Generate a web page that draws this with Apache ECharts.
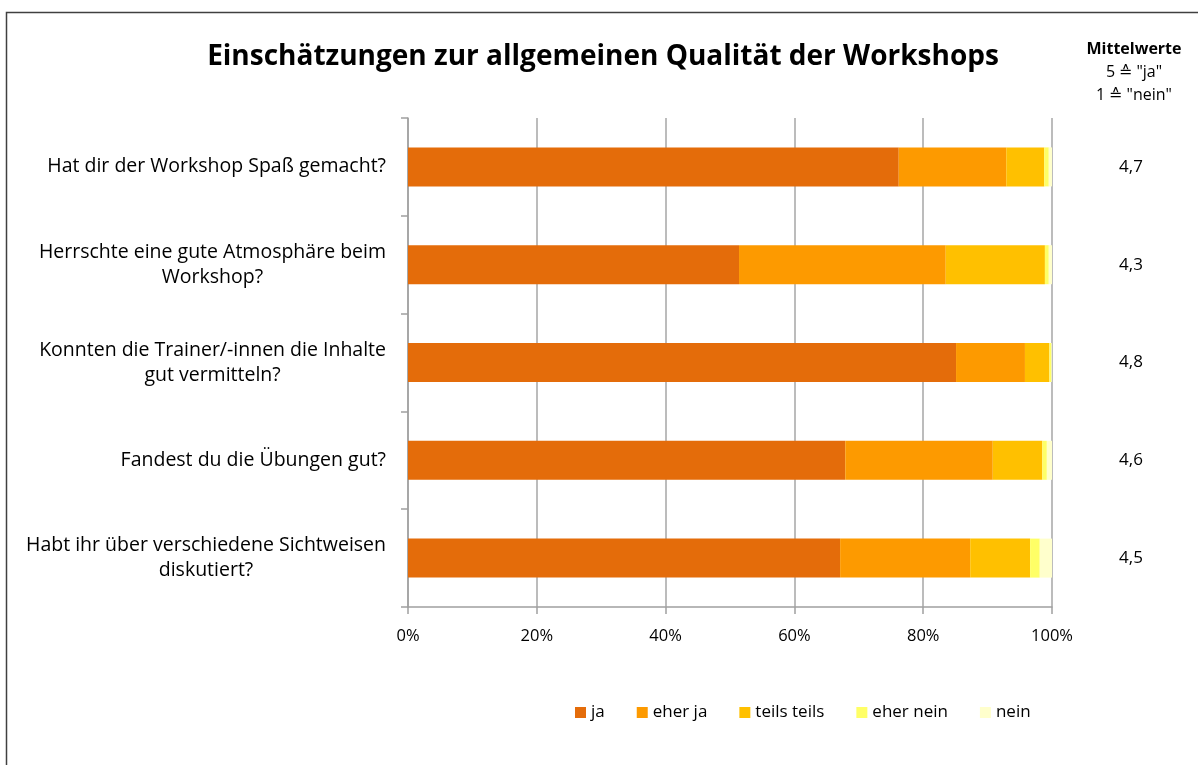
<!DOCTYPE html>
<html>
<head>
<meta charset="utf-8">
<script src="https://cdn.jsdelivr.net/npm/echarts@6/dist/echarts.min.js"></script>
<style>
  html, body { margin: 0; padding: 0; background: #fff; }
  #chart { width: 1198px; height: 765px; }
</style>
</head>
<body>
<div id="chart"></div>
<script>
// questions, top to bottom
const questions = [
  'Hat dir der Workshop Spaß gemacht?',
  'Herrschte eine gute Atmosphäre beim\nWorkshop?',
  'Konnten die Trainer/-innen die Inhalte\ngut vermitteln?',
  'Fandest du die Übungen gut?',
  'Habt ihr über verschiedene Sichtweisen\ndiskutiert?'
];
const means = ['4,7', '4,3', '4,8', '4,6', '4,5'];

// shares in percent per answer
const ja = [76.2, 51.4, 85.1, 67.9, 67.1];
const eherJa = [16.7, 32.1, 10.7, 22.9, 20.2];
const teilsTeils = [5.9, 15.4, 3.8, 7.7, 9.3];
const eherNein = [0.7, 0.6, 0.3, 0.7, 1.5];
const nein = [0.5, 0.5, 0.1, 0.8, 1.9];

const answerNames = ['ja', 'eher ja', 'teils teils', 'eher nein', 'nein'];
const answerColors = ['#e46c0a', '#fd9a00', '#ffc000', '#ffff66', '#ffffcc'];
const answerData = [ja, eherJa, teilsTeils, eherNein, nein];

const font = '"Open Sans", "Noto Sans", sans-serif';

const chart = echarts.init(document.getElementById('chart'), null, { renderer: 'canvas' });

const series = answerNames.map((name, i) => ({
  name: name,
  type: 'bar',
  stack: 'total',
  barWidth: 39,
  itemStyle: { color: answerColors[i] },
  emphasis: { disabled: true },
  data: answerData[i]
}));

chart.setOption({
  animation: false,
  textStyle: { fontFamily: font },
  title: [
    {
      text: 'Einschätzungen zur allgemeinen Qualität der Workshops',
      left: 598,
      textAlign: 'center',
      top: 38,
      textStyle: { fontFamily: font, fontSize: 28, fontWeight: 'bold', color: '#000' }
    },
    {
      text: '{b|Mittelwerte}\n{n|5 ≙ "ja"}\n{n|1 ≙ "nein"}',
      left: 1129,
      textAlign: 'center',
      top: 33,
      textStyle: {
        fontWeight: 'normal',
        rich: {
          b: { fontFamily: font, fontSize: 16, fontWeight: 'bold', color: '#000', lineHeight: 23, align: 'center' },
          n: { fontFamily: font, fontSize: 16, fontWeight: 'normal', color: '#000', lineHeight: 23, align: 'center' }
        }
      }
    }
  ],
  legend: {
    data: answerNames,
    left: 570,
    top: 699,
    icon: 'rect',
    itemWidth: 11,
    itemHeight: 11,
    itemGap: 32,
    itemStyle: { borderWidth: 0 },
    textStyle: { fontFamily: font, fontSize: 17, color: '#000' },
    selectedMode: false
  },
  grid: { left: 408, right: 146, top: 118, bottom: 158 },
  xAxis: {
    type: 'value',
    min: 0,
    max: 100,
    interval: 20,
    axisLine: { show: true, lineStyle: { color: '#a0a0a0', width: 1.5 } },
    axisTick: { show: true, length: 7, lineStyle: { color: '#a0a0a0', width: 1.5 } },
    splitLine: { show: true, lineStyle: { color: '#a6a6a6', width: 1.5 } },
    axisLabel: { formatter: '{value}%', fontFamily: font, fontSize: 16.5, color: '#000', margin: 21 }
  },
  yAxis: [
    {
      type: 'category',
      data: questions,
      inverse: true,
      axisLine: { show: true, lineStyle: { color: '#a0a0a0', width: 1.5 } },
      axisTick: { show: true, length: 7, lineStyle: { color: '#a0a0a0', width: 1.5 } },
      axisLabel: {
        margin: 22,
        formatter: v => v.split('\n').map(s => '{c|' + s + '}').join('\n'),
        rich: { c: { fontFamily: font, fontSize: 19.5, color: '#000', align: 'center', lineHeight: 25 } }
      }
    },
    {
      type: 'category',
      data: means,
      inverse: true,
      position: 'right',
      axisLine: { show: false },
      axisTick: { show: false },
      axisLabel: { align: 'center', margin: 79, fontFamily: font, fontSize: 17, color: '#000' }
    }
  ],
  graphic: [
    {
      type: 'rect',
      shape: { x: 6.5, y: 12.5, width: 1200, height: 760 },
      style: { fill: 'none', stroke: '#404040', lineWidth: 1.5 },
      silent: true
    }
  ],
  series: series
});
</script>
</body>
</html>
